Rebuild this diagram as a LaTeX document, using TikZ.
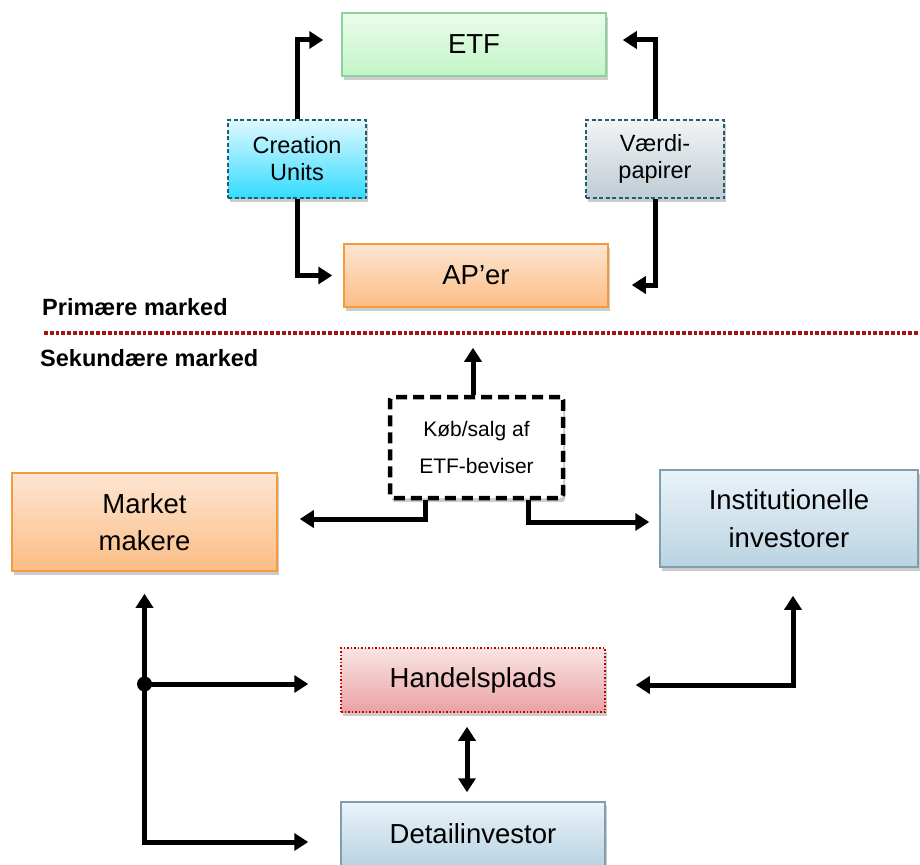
\documentclass[tikz,border=0pt]{standalone}
\usepackage{fontspec}
\setmainfont{Liberation Sans}
\usepackage{xcolor}
\definecolor{vert}{HTML}{8FD19E}
\definecolor{vertl}{HTML}{EAFDEA}
\definecolor{vertd}{HTML}{C2F4C6}
\definecolor{orange}{HTML}{F79A3E}
\definecolor{orangel}{HTML}{FDE6D2}
\definecolor{oranged}{HTML}{FBBD85}
\definecolor{petrol}{HTML}{1F5F6E}
\definecolor{cyanl}{HTML}{E0F8FF}
\definecolor{cyand}{HTML}{33DCFF}
\definecolor{greyl}{HTML}{F2F4F6}
\definecolor{greyd}{HTML}{BFCCD4}
\definecolor{bleu}{HTML}{7F9FB0}
\definecolor{bleul}{HTML}{EAF3F8}
\definecolor{bleud}{HTML}{B9D3E2}
\definecolor{rouge}{HTML}{C00000}
\definecolor{rougel}{HTML}{F8E4E4}
\definecolor{rouged}{HTML}{EBA2A4}
\definecolor{bordeaux}{HTML}{A31515}
\usepackage{tikz}
\usetikzlibrary{calc,positioning,arrows.meta,shadows}
\tikzset{
  prog/.style={rectangle, line width=1.5pt, text centered, align=center, inner sep=0pt,
    minimum width=264pt, minimum height=63pt, font={\fontsize{27.5}{37.5}\selectfont},
    drop shadow={shadow xshift=2pt,shadow yshift=-4pt,opacity=0.4}},
  proggr/.style={prog, draw=vert, top color=vertl, bottom color=vertd},
  progor/.style={prog, draw=orange, top color=orangel, bottom color=oranged},
  progbl/.style={prog, draw=bleu, top color=bleul, bottom color=bleud},
  progrd/.style={prog, draw=rouge, dotted, top color=rougel, bottom color=rouged},
  progm/.style={prog, draw=petrol, dash pattern=on 4pt off 2.5pt, minimum width=138pt,
    minimum height=78pt, font={\fontsize{23.5}{27}\selectfont}},
  progk/.style={prog, draw=black, line width=4.5pt, dash pattern=on 11pt off 6pt,
    rounded corners=3pt, fill=white, drop shadow={opacity=0}, minimum width=173pt,
    minimum height=101pt, font={\fontsize{21}{37}\selectfont}},
  tag/.style={anchor=base west, inner sep=0pt, font={\fontsize{23.5}{27}\selectfont\bfseries}},
  sep/.style={draw=bordeaux, line width=4pt, dash pattern=on 3.8pt off 2pt},
  line/.style={draw, line width=5pt, ->},
  dline/.style={draw, line width=5pt, <->},
  >={Triangle[length=14pt,width=17pt]}
}

\begin{document}
\begin{tikzpicture}[x=1pt,y=-1pt]
    \useasboundingbox (0,0) rectangle (920,864);

    % primary market
    \node[proggr] (etf) at (474,44.5) {ETF};
    \node[progor] (aper) at (476,275.5) {AP’er};
    \node[progm, top color=cyanl, bottom color=cyand] (cu) at (297,159) {Creation\\Units};
    \node[progm, top color=greyl, bottom color=greyd] (vp) at (655,159) {Værdi-\\papirer};

    \node[tag] (prim) at (42,315) {Primære marked};
    \draw[sep] (44,333) -- (920,333);
    \node[tag] (sek) at (40,366) {Sekundære marked};

    % secondary market
    \node[progk] (key) at (476.5,447.5) {Køb/salg af\\ETF-beviser};
    \node[progor, minimum width=265pt, minimum height=98pt] (mm) at (144.5,522) {Market\\makere};
    \node[progbl, minimum width=258pt, minimum height=97pt] (inst) at (789,518.5) {Institutionelle\\investorer};
    \node[progrd, minimum height=64pt] (hp) at (473,680) {Handelsplads};
    \node[progbl, minimum height=64pt] (det) at (473,834) {Detailinvestor};

    \coordinate (branch) at (144.5,684);
    \fill (branch) circle (7.5pt);

    \begin{scope}[every path/.style=line]
      \path (cu.north) |- ([xshift=-18pt,yshift=4.5pt]etf.west);
      \path (cu.south) |- ([xshift=-11pt]aper.west);
      \path (vp.north) |- ([xshift=16pt,yshift=4.5pt]etf.east);
      \path (vp.south) |- ([xshift=23pt,yshift=-9.5pt]aper.east);

      \path ([xshift=-3.5pt]key.north) -- ([xshift=-3.5pt,yshift=47pt]key.north);
      \path ([xshift=-51.5pt]key.south) |- ([xshift=22pt,yshift=3pt]mm.east);
      \path ([xshift=51.5pt]key.south) |- ([xshift=-10pt,yshift=-3.5pt]inst.west);

      \path (branch) -- ([xshift=-32pt,yshift=-4pt]hp.west);
    \end{scope}

    \begin{scope}[every path/.style=dline]
      \path ([xshift=-32pt,yshift=-8pt]det.west) -| ([yshift=-22pt]mm.south);
      \path ([xshift=30pt,yshift=-5pt]hp.east) -| ([xshift=4pt,yshift=-28pt]inst.south);
      \path ([xshift=-6pt,yshift=-14pt]hp.south) -- ([xshift=-6pt,yshift=9pt]det.north);
    \end{scope}

\end{tikzpicture}
\end{document}
